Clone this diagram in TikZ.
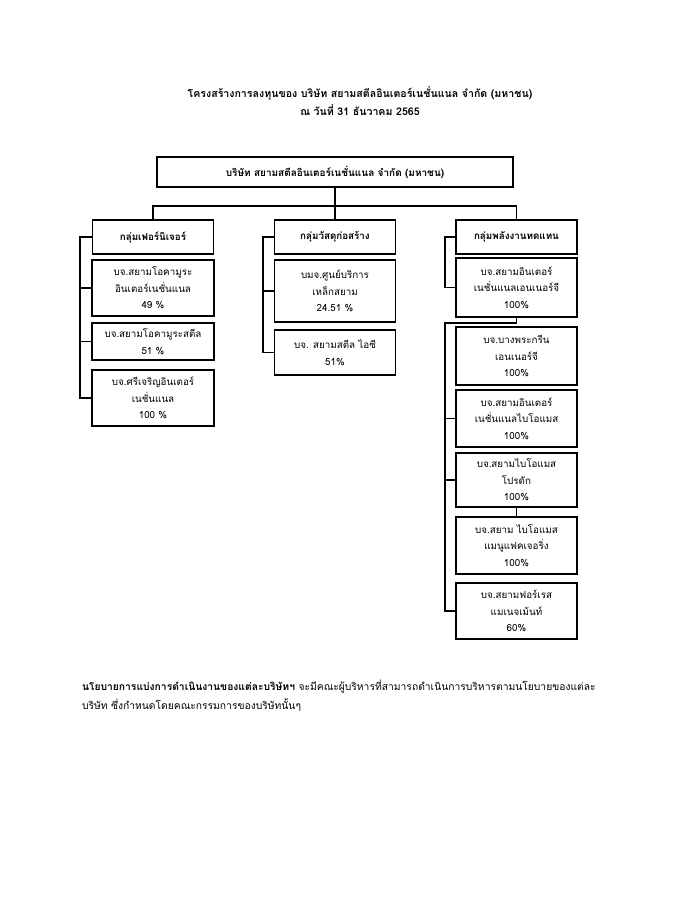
\documentclass[tikz,border=0pt]{standalone}
\usepackage{fontspec}
\setmainfont{Loma}[Script=Thai]
\begin{document}
\begin{tikzpicture}[x=1pt,y=-1pt,
  every node/.style={inner sep=0pt,outer sep=0pt},
  box/.style={draw=black,line width=1.2pt,fill=white,align=center,font=\fontsize{9.8}{16.5}\selectfont},
  grp/.style={box,minimum width=121pt,minimum height=34pt,font=\bfseries\fontsize{9.8}{12}\selectfont},
  conn/.style={draw=black,line width=1.2pt}]
\useasboundingbox (0,0) rectangle (700,906);
% title
\node[font=\bfseries\fontsize{10.6}{18}\selectfont,align=center] (title) at (360,101)
  {โครงสร้างการลงทุนของ บริษัท สยามสตีลอินเตอร์เนชั่นแนล จำกัด (มหาชน)\\ณ วันที่ 31 ธันวาคม 2565};
% top box
\node[box,minimum width=356pt,minimum height=30pt,font=\bfseries\fontsize{10}{12}\selectfont] (top) at (335,172)
  {บริษัท สยามสตีลอินเตอร์เนชั่นแนล จำกัด (มหาชน)};
% groups
\node[grp] (g1) at (153,237) {กลุ่มเฟอร์นิเจอร์};
\node[grp] (g2) at (335,237) {กลุ่มวัสดุก่อสร้าง};
\node[grp] (g3) at (516.5,237) {กลุ่มพลังงานทดแทน};
% furniture
\node[box,minimum width=122pt,minimum height=56pt] (f1) at (153,288) {บจ.สยามโอคามูระ\\อินเตอร์เนชั่นแนล\\49 \%};
\node[box,minimum width=122pt,minimum height=37pt] (f2) at (153,341.5) {บจ.สยามโอคามูระสตีล\\51 \%};
\node[box,minimum width=122pt,minimum height=56pt] (f3) at (153,398) {บจ.ศรีเจริญอินเตอร์\\เนชั่นแนล\\100 \%};
% construction
\node[box,minimum width=121pt,minimum height=62pt] (c1) at (335,291) {บมจ.ศูนย์บริการ\\เหล็กสยาม\\24.51 \%};
\node[box,minimum width=121pt,minimum height=45pt] (c2) at (335,352.5) {บจ. สยามสตีล ไอซี\\51\%};
% renewable
\node[box,minimum width=121pt,minimum height=59pt] (r1) at (516.5,287.5) {บจ.สยามอินเตอร์\\เนชั่นแนลเอนเนอร์จี\\100\%};
\node[box,minimum width=121pt,minimum height=58pt] (r2) at (516.5,356) {บจ.บางพระกรีน\\เอนเนอร์จี\\100\%};
\node[box,minimum width=121pt,minimum height=57pt] (r3) at (516.5,418.5) {บจ.สยามอินเตอร์\\เนชั่นแนลไบโอแมส\\100\%};
\node[box,minimum width=121pt,minimum height=54pt] (r4) at (516.5,480) {บจ.สยามไบโอแมส\\โปรดัก\\100\%};
\node[box,minimum width=121pt,minimum height=57pt] (r5) at (516.5,545.5) {บจ.สยาม ไบโอแมส\\แมนูแฟคเจอริ่ง\\100\%};
\node[box,minimum width=121pt,minimum height=56pt] (r6) at (516.5,611) {บจ.สยามฟอร์เรส\\แมเนจเม้นท์\\60\%};
% connectors from top
\coordinate (bus) at (0,206);
\draw[conn] (top.south) -- (g2.north);
\draw[conn] (g1.north) |- (bus -| g3.north) -- (g3.north);
% furniture bracket
\coordinate (fx) at (80,0);
\draw[conn] (g1.west) -| (fx |- f3.west) -- (f3.west);
\draw[conn] (f1.west) -- (fx |- f1.west);
\draw[conn] (f2.west) -- (fx |- f2.west);
% construction bracket
\coordinate (cx) at (263,0);
\draw[conn] (g2.west) -| (cx |- c2.west) -- (c2.west);
\draw[conn] (c1.west) -- (cx |- c1.west);
% renewable bracket
\coordinate (rx) at (445,0);
\coordinate (rbus) at (0,323);
\draw[conn] (g3.west) -| (rx |- r1.west) -- (r1.west);
\draw[conn] (r1.south) -- (r1.south |- rbus) -| (rx |- r6.west) -- (r6.west);
\draw[conn] (r3.west) -- (rx |- r3.west);
\draw[conn] (r4.west) -- (rx |- r4.west);
\draw[conn] (r4.south) -- (r5.north);
% footer
\node[anchor=north west,align=left,font=\fontsize{10.3}{19}\selectfont] (foot) at (82,680)
  {\textbf{นโยบายการแบ่งการดำเนินงานของแต่ละบริษัทฯ} จะมีคณะผู้บริหารที่สามารถดำเนินการบริหารตามนโยบายของแต่ละ\\บริษัท ซึ่งกำหนดโดยคณะกรรมการของบริษัทนั้นๆ};
\end{tikzpicture}
\end{document}
